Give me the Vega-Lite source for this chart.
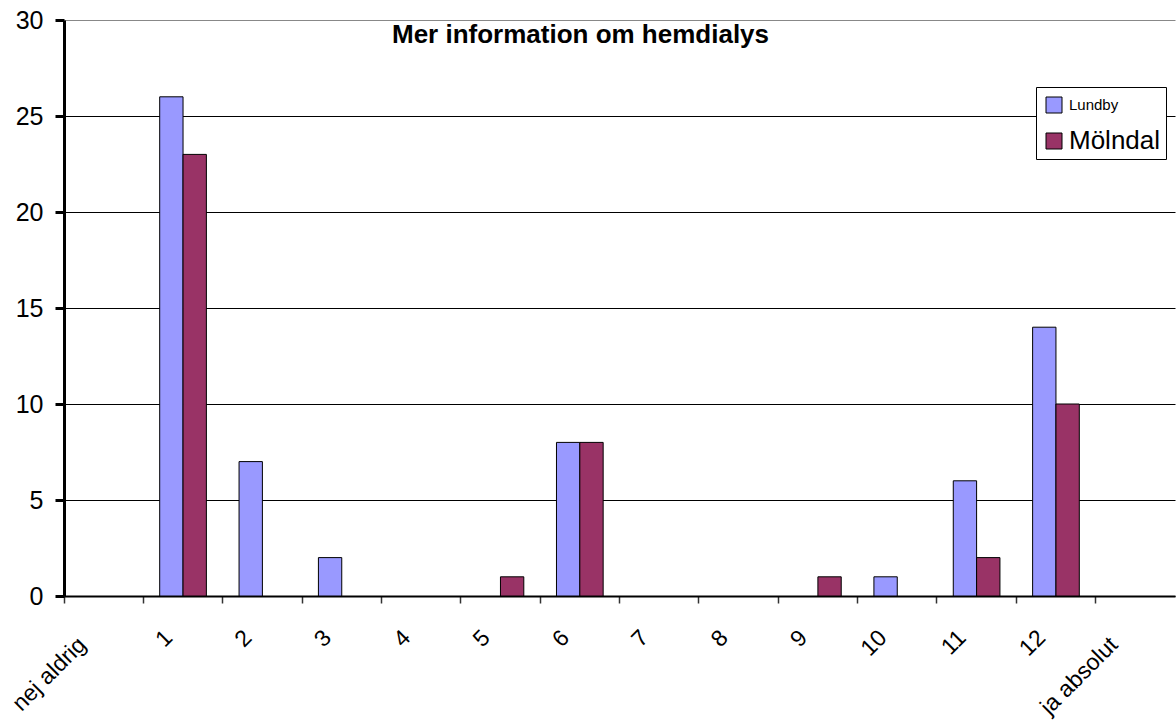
{
  "$schema": "https://vega.github.io/schema/vega-lite/v6.json",
  "width": 1111,
  "height": 576,
  "autosize": {"type": "none"},
  "padding": {"left": 64, "top": 20, "right": 1, "bottom": 124},
  "background": "white",
  "config": {"font": "Liberation Sans", "view": {"stroke": null}},
  "title": {
    "text": "Mer information om hemdialys",
    "font": "Liberation Sans",
    "fontSize": 26,
    "fontWeight": "bold",
    "color": "black",
    "anchor": "middle",
    "baseline": "alphabetic",
    "offset": 0,
    "dy": 61,
    "dx": -39
  },
  "data": {
    "values": [
      {"cat": "nej aldrig", "series": "Lundby", "value": 0},
      {"cat": "nej aldrig", "series": "Mölndal", "value": 0},
      {"cat": "1", "series": "Lundby", "value": 26},
      {"cat": "1", "series": "Mölndal", "value": 23},
      {"cat": "2", "series": "Lundby", "value": 7},
      {"cat": "2", "series": "Mölndal", "value": 0},
      {"cat": "3", "series": "Lundby", "value": 2},
      {"cat": "3", "series": "Mölndal", "value": 0},
      {"cat": "4", "series": "Lundby", "value": 0},
      {"cat": "4", "series": "Mölndal", "value": 0},
      {"cat": "5", "series": "Lundby", "value": 0},
      {"cat": "5", "series": "Mölndal", "value": 1},
      {"cat": "6", "series": "Lundby", "value": 8},
      {"cat": "6", "series": "Mölndal", "value": 8},
      {"cat": "7", "series": "Lundby", "value": 0},
      {"cat": "7", "series": "Mölndal", "value": 0},
      {"cat": "8", "series": "Lundby", "value": 0},
      {"cat": "8", "series": "Mölndal", "value": 0},
      {"cat": "9", "series": "Lundby", "value": 0},
      {"cat": "9", "series": "Mölndal", "value": 1},
      {"cat": "10", "series": "Lundby", "value": 1},
      {"cat": "10", "series": "Mölndal", "value": 0},
      {"cat": "11", "series": "Lundby", "value": 6},
      {"cat": "11", "series": "Mölndal", "value": 2},
      {"cat": "12", "series": "Lundby", "value": 14},
      {"cat": "12", "series": "Mölndal", "value": 10},
      {"cat": "ja absolut", "series": "Lundby", "value": 0},
      {"cat": "ja absolut", "series": "Mölndal", "value": 0}
    ]
  },
  "transform": [{"filter": "datum.value > 0"}],
  "mark": {"type": "bar", "stroke": "black", "strokeWidth": 1},
  "encoding": {
    "x": {
      "field": "cat",
      "type": "nominal",
      "scale": {
        "domain": ["nej aldrig", "1", "2", "3", "4", "5", "6", "7", "8", "9", "10", "11", "12", "ja absolut"],
        "paddingInner": 0,
        "paddingOuter": 0
      },
      "axis": {
        "title": null,
        "bandPosition": 0,
        "labelAngle": -45,
        "labelAlign": "right",
        "labelBaseline": "top",
        "labelFont": "Liberation Sans",
        "labelFontSize": 23,
        "labelColor": "black",
        "labelOverlap": false,
        "labelBound": false,
        "labelOffset": {"condition": {"test": "length(datum.label) > 2", "value": -29}, "value": -22},
        "labelPadding": {"condition": {"test": "length(datum.label) > 2", "value": 30}, "value": 23},
        "tickSize": 7,
        "tickColor": "#333333",
        "tickWidth": 1.5,
        "domainColor": "black",
        "domainWidth": 2,
        "grid": false
      }
    },
    "xOffset": {
      "field": "series",
      "type": "nominal",
      "scale": {"domain": ["Lundby", "Mölndal"], "paddingInner": 0, "paddingOuter": 0.7}
    },
    "y": {
      "field": "value",
      "type": "quantitative",
      "scale": {"domain": [0, 30], "nice": false},
      "axis": {
        "title": null,
        "values": [0, 5, 10, 15, 20, 25, 30],
        "labelFont": "Liberation Sans",
        "labelFontSize": 25,
        "labelColor": "black",
        "labelPadding": 12,
        "tickSize": 9,
        "tickWidth": 3,
        "tickColor": "black",
        "domainColor": "black",
        "domainWidth": 3,
        "grid": true,
        "gridColor": {"condition": {"test": "datum.value === 30", "value": "#888888"}, "value": "black"},
        "gridWidth": 1,
        "gridOpacity": 1
      }
    },
    "color": {
      "field": "series",
      "type": "nominal",
      "scale": {"domain": ["Lundby", "Mölndal"], "range": ["#9999FF", "#993366"]},
      "legend": {
        "title": null,
        "orient": "none",
        "legendX": 972,
        "legendY": 67,
        "padding": 5,
        "fillColor": "white",
        "strokeColor": "black",
        "symbolType": "square",
        "symbolSize": 256,
        "symbolStrokeColor": "black",
        "symbolStrokeWidth": 1,
        "symbolOpacity": 1,
        "labelFont": "Liberation Sans",
        "labelColor": "black",
        "labelOffset": 2,
        "rowPadding": 13,
        "encode": {
          "labels": {
            "update": {
              "fontSize": {"signal": "datum.value === 'Lundby' ? 15 : 26"}
            }
          }
        }
      }
    }
  }
}
